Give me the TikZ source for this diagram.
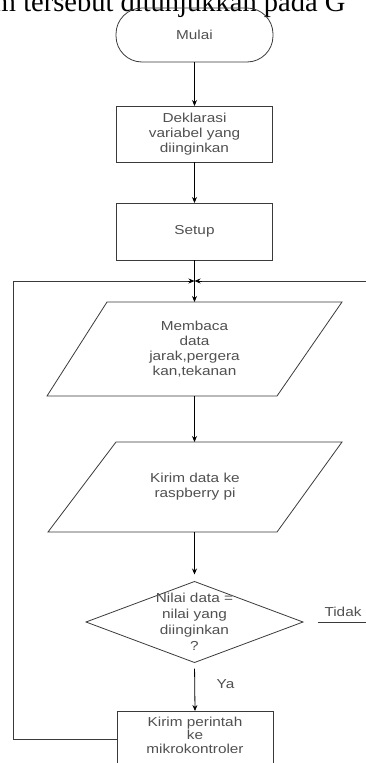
\documentclass[tikz,border=0pt]{standalone}
\usepackage{fontspec}
\usetikzlibrary{arrows.meta,shapes.geometric}
\newfontfamily\labfont[FakeStretch=1.18]{Liberation Sans}
\newfontfamily\headfont{Liberation Serif}
\definecolor{inkline}{HTML}{3A3A3A}
\definecolor{inktext}{HTML}{505050}
\begin{document}
\begin{tikzpicture}[x=1pt,y=-1pt,
  every node/.style={inner sep=0pt, outer sep=0pt},
  txt/.style={font=\labfont\fontsize{13}{15}\selectfont, text=inktext, align=center},
  boxstep/.style={draw=inkline, line width=0.8pt, minimum width=156pt},
  outline/.style={draw=inkline, line width=0.8pt, line join=miter},
  flow/.style={draw=black, line width=0.8pt, -{Stealth[length=6pt,width=5pt]}},
  loopline/.style={draw=inkline, line width=0.8pt},
]
\useasboundingbox (0,0) rectangle (365,763);

% heading line of the surrounding page text (runs past the top edge)
\node[anchor=base west, font=\headfont\fontsize{28.5}{32}\selectfont] (head) at (-6,11) {m tersebut ditunjukkan pada G};

% start terminal
\node[draw=inkline, line width=0.8pt, rounded corners=26pt, minimum width=157pt, minimum height=54pt, txt] (mulai) at (194.5,35) {Mulai};

% declaration and setup
\node[boxstep, minimum height=56pt, txt] (dek) at (194.5,134) {Deklarasi\\variabel yang\\diinginkan};
\node[boxstep, minimum height=57pt, txt] (setup) at (194.5,231.5) {Setup};

% input / output blocks (parallelograms)
\coordinate (bacaN) at (194.5,302);
\coordinate (bacaS) at (194.5,396);
\draw[outline] (107,302) -- (342,302) -- (277,396) -- (47,396) -- cycle;
\node[txt] (baca) at (194.5,349) {Membaca\\data\\jarak,pergera\\kan,tekanan};

\coordinate (kirimN) at (194.5,442);
\coordinate (kirimS) at (194.5,532);
\draw[outline] (116,442) -- (342,442) -- (277,532) -- (48,532) -- cycle;
\node[txt] (kirim) at (195,487) {Kirim data ke\\raspberry pi};

% decision
\node[draw=inkline, line width=0.8pt, diamond, minimum width=217pt, minimum height=81pt] (dec) at (194.5,622) {\phantom{x}};
\node[txt, font=\labfont\fontsize{13}{16}\selectfont] (dect) at (194.5,622) {Nilai data =\\nilai yang\\diinginkan\\?};

% final command block (continues below the visible area)
\node[boxstep, minimum height=70pt, anchor=north] (cmd) at (195,711) {};
\node[txt, font=\labfont\fontsize{13}{13.5}\selectfont] (cmdt) at (195,735) {Kirim perintah\\ke\\mikrokontroler};

% junction of the loop and the main flow
\coordinate (jn) at (194.5,281);
\coordinate (lc1) at (13,739);
\coordinate (lc2) at (13,281);
\coordinate (rin) at (366,281);
\coordinate (tidakA) at (318,622);
\coordinate (tidakB) at (366,622);

% main flow
\draw[flow] (mulai.south) -- (dek.north);
\draw[flow] (dek.south) -- (setup.north);
\draw[flow] (setup.south) -- (bacaN);
\draw[flow] (bacaS) -- (kirimN);
\draw[flow, shorten >=7pt] (kirimS) -- (dec.north);
\draw[flow, shorten <=6pt] (dec.south) -- (cmd.north)
  node[pos=0.45, right=22pt, txt] (ya) {Ya};

% loop back
\draw[loopline] (cmd.west |- lc1) -- (lc1) -- (lc2) -- ([xshift=-6pt]jn);
\draw[flow] ([xshift=-7pt]jn) -- (jn);
\draw[loopline] (rin) -- ([xshift=6pt]jn);
\draw[flow] ([xshift=7pt]jn) -- (jn);

% "Tidak" branch
\draw[loopline] (tidakA) -- (tidakB);
\node[txt, anchor=south] (tidak) at (343,617) {Tidak};
\end{tikzpicture}
\end{document}
